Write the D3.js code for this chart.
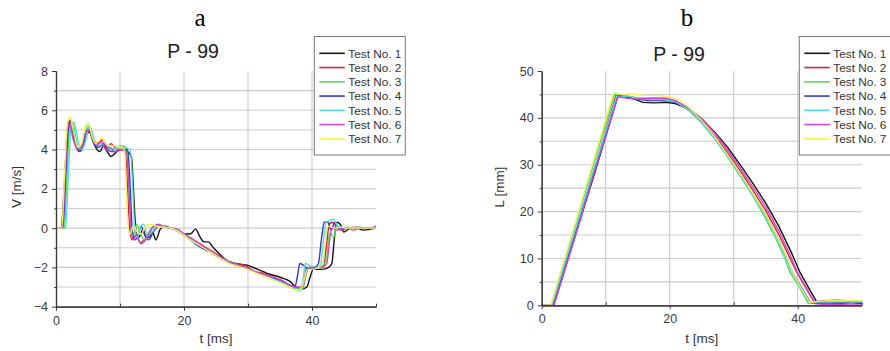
<!DOCTYPE html>
<html>
<head>
<meta charset="utf-8">
<script src="https://cdnjs.cloudflare.com/ajax/libs/d3/7.8.5/d3.min.js"></script>
<style>
  html, body { margin: 0; padding: 0; background: #fff; }
  svg { display: block; }
  text { font-family: "Liberation Sans", Arial, sans-serif; }
</style>
</head>
<body>
<svg id="chart" width="890" height="351"></svg>
<script>
// ---------------- DATA ----------------
const testNames = ["Test No. 1", "Test No. 2", "Test No. 3", "Test No. 4", "Test No. 5", "Test No. 6", "Test No. 7"];
const testColors = ["#141414", "#d02828", "#55dd55", "#3838c8", "#55e0e0", "#d045d0", "#f5ee55"];
const panelLetters = ["a", "b"];
const panelTitles = ["P - 99", "P - 99"];
const tTicks = [0, 20, 40];
const vTicks = [-4, -2, 0, 2, 4, 6, 8];
const lTicks = [0, 10, 20, 30, 40, 50];

// Velocity V [m/s] vs t [ms]  (pairs [t, V])
const vTest1 = [[0,0],[0.8,0],[1.3,2.2],[1.8,5.0],[2.2,5.4],[2.8,4.6],[3.5,3.95],[4.1,4.1],[4.7,4.7],[5.2,4.9],[5.8,4.4],[6.4,4.0],[6.9,3.9],[7.4,4.2],[8.0,3.9],[8.6,3.65],[9.2,3.8],[9.8,4.0],[10.5,4.0],[11.2,3.9],[11.8,3.6],[12.1,2.0],[12.4,0.2],[12.7,-0.5],[13.1,-0.4],[13.6,-0.05],[14.1,-0.5],[14.6,-0.45],[15.1,-0.2],[15.6,-0.6],[16.3,-0.05],[17,0.1],[18,0.0],[19,-0.1],[20,-0.3],[21,-0.3],[21.8,-0.05],[22.5,-0.45],[23.1,-0.7],[23.8,-0.7],[24.6,-1.0],[25.5,-1.3],[26.5,-1.6],[28,-1.8],[30,-1.9],[31.5,-2.1],[33,-2.3],[35,-2.5],[36.5,-2.7],[37.5,-3.0],[38.5,-3.1],[39.2,-3.0],[39.7,-2.5],[40.2,-2.1],[41.5,-2.1],[42.6,-2.0],[43.1,-1.8],[43.5,-0.5],[43.9,0.3],[44.4,0.2],[45,-0.2],[46,0.0],[47,0.0],[48,-0.1],[50,0.0]];
const vTest2 = [[0,0],[1.0,0],[1.4,2.5],[1.9,5.3],[2.3,5.5],[2.9,4.6],[3.5,4.0],[4.1,4.2],[4.8,5.0],[5.3,5.1],[5.9,4.5],[6.5,4.3],[7.3,4.5],[8.0,4.1],[8.6,4.3],[9.3,4.1],[10,4.1],[10.8,4.0],[11.2,2.0],[11.5,0.0],[11.9,-0.6],[12.5,-0.4],[13.2,-0.75],[13.8,-0.6],[14.5,-0.3],[15.2,0.1],[16,0.15],[17,0.05],[18,0.0],[19,-0.1],[20,-0.3],[21,-0.5],[22,-0.7],[23,-0.9],[24,-1.1],[25,-1.3],[26,-1.5],[27,-1.7],[28,-1.8],[29.5,-1.9],[31,-2.2],[32.5,-2.3],[34,-2.5],[35.5,-2.7],[36.5,-2.9],[37.5,-3.0],[38.3,-3.1],[38.8,-2.6],[39.2,-2.0],[40,-2.1],[41,-2.0],[41.8,-1.9],[42.3,-0.8],[42.7,0.2],[43.2,0.3],[43.8,0.1],[44.5,-0.1],[45.5,0.0],[47,0.05],[48.5,0.0],[50,0.05]];
const vTest3 = [[0,0],[1.3,0],[1.7,2.5],[2.2,5.3],[2.6,5.4],[3.2,4.4],[3.8,3.9],[4.4,4.3],[4.9,5.2],[5.4,5.1],[6.0,4.4],[6.6,4.1],[7.3,4.3],[8.0,4.2],[8.7,4.0],[9.4,4.1],[10.2,4.2],[11.0,4.1],[11.4,2.0],[11.7,0.0],[12.0,-0.5],[12.6,0.2],[13.1,-0.2],[13.8,-0.6],[14.5,-0.2],[15.3,0.1],[16,0.1],[17,0.05],[18,0.0],[19,-0.15],[20,-0.35],[21,-0.55],[22,-0.8],[23,-1.0],[24,-1.2],[25,-1.35],[26,-1.55],[27,-1.75],[28,-1.85],[29.5,-2.0],[31,-2.2],[32.5,-2.4],[34,-2.6],[35.5,-2.8],[36.5,-3.0],[37.5,-3.1],[38.5,-3.1],[39.0,-2.5],[39.5,-2.0],[40.5,-2.0],[41.5,-2.0],[42.3,-1.5],[42.7,-0.3],[43.0,-0.3],[43.4,-0.45],[43.9,0.1],[44.5,0.0],[45.5,0.05],[47,0.0],[48.5,0.0],[50,0.0]];
const vTest4 = [[0,0],[1.1,0],[1.5,2.5],[2.0,5.2],[2.3,5.3],[2.9,4.4],[3.6,3.9],[4.3,4.2],[4.9,5.0],[5.4,4.9],[6.0,4.3],[6.6,4.1],[7.4,4.3],[8.0,4.0],[8.7,3.9],[9.4,3.9],[10.2,4.0],[11.2,4.0],[11.6,2.0],[11.9,0.0],[12.3,-0.6],[12.8,-0.4],[13.3,0.1],[13.8,-0.3],[14.5,-0.6],[15.2,-0.2],[16,0.1],[17,0.05],[18,0.0],[19,-0.15],[20,-0.35],[21,-0.6],[22,-0.85],[23,-1.05],[24,-1.2],[25,-1.4],[26,-1.6],[27,-1.75],[28,-1.85],[29.5,-2.0],[31,-2.2],[32.5,-2.4],[34,-2.55],[35.5,-2.75],[36.5,-2.9],[37.3,-3.0],[37.7,-2.5],[38.1,-1.8],[38.7,-1.9],[39.5,-2.1],[40.5,-2.0],[41.0,-1.8],[41.5,-0.5],[41.9,0.3],[42.5,0.3],[43.0,-0.1],[43.6,0.3],[44.2,0.0],[45.5,0.0],[47,0.0],[48.5,0.0],[50,0.0]];
const vTest5 = [[0,0],[1.5,0],[1.9,2.5],[2.4,5.3],[2.8,5.4],[3.4,4.5],[4.0,4.0],[4.6,4.4],[5.1,5.1],[5.6,4.9],[6.2,4.3],[6.8,4.2],[7.5,4.4],[8.2,4.1],[9.0,4.0],[9.8,4.1],[10.6,4.1],[11.6,4.0],[12.0,2.0],[12.3,0.0],[12.7,-0.5],[13.2,0.1],[13.7,0.2],[14.3,-0.4],[15,-0.2],[15.8,0.1],[17,0.05],[18,0.0],[19,-0.1],[20,-0.3],[21,-0.5],[22,-0.75],[23,-0.95],[24,-1.15],[25,-1.35],[26,-1.55],[27,-1.7],[28,-1.85],[29.5,-2.0],[31,-2.2],[32.5,-2.4],[34,-2.6],[35.5,-2.8],[36.5,-2.95],[37.5,-3.1],[38.2,-3.2],[38.6,-2.6],[39.0,-1.8],[39.6,-1.9],[40.5,-2.0],[41.3,-1.9],[41.8,-0.6],[42.2,0.3],[42.8,0.4],[43.4,0.45],[44.0,0.1],[44.8,0.05],[46,0.0],[47.5,0.05],[49,0.0],[50,0.05]];
const vTest6 = [[0,0],[1.0,0],[1.4,2.5],[1.8,5.1],[2.1,5.3],[2.7,4.5],[3.4,4.0],[4.0,4.2],[4.7,4.9],[5.2,5.0],[5.8,4.5],[6.4,4.2],[7.1,4.4],[7.8,4.0],[8.5,4.1],[9.2,3.9],[10,4.0],[11.0,3.9],[11.4,2.0],[11.7,0.0],[12.1,-0.6],[12.6,-0.3],[13.2,-0.8],[13.8,-0.7],[14.5,-0.3],[15.2,0.05],[16.0,0.2],[17,0.05],[18,0.0],[19,-0.05],[20,-0.3],[21,-0.5],[22,-0.7],[23,-0.95],[24,-1.15],[25,-1.35],[26,-1.55],[27,-1.75],[28,-1.85],[29.5,-2.0],[31,-2.2],[32.5,-2.35],[34,-2.5],[35.5,-2.7],[36.5,-2.9],[37.5,-3.0],[38.5,-3.0],[39.0,-2.4],[39.5,-2.0],[40.5,-2.0],[41.5,-2.0],[42.3,-1.8],[42.8,-0.5],[43.2,0.1],[43.8,-0.1],[44.5,-0.05],[45.5,0.0],[46.5,-0.1],[47.5,0.0],[49,0.0],[50,0.1]];
const vTest7 = [[0,0],[0.9,0],[1.3,2.5],[1.8,5.4],[2.2,5.7],[2.8,4.8],[3.4,4.1],[4.0,4.3],[4.6,5.2],[5.1,5.35],[5.7,4.6],[6.3,4.3],[7.1,4.6],[7.8,4.3],[8.5,4.2],[9.3,4.2],[10,4.1],[10.7,4.0],[11.0,2.0],[11.3,0.0],[11.6,-0.3],[12.1,0.1],[12.7,-0.2],[13.3,-0.3],[14.0,0.1],[14.8,0.2],[15.6,0.1],[17,0.05],[18,0.0],[19,-0.15],[20,-0.35],[21,-0.6],[22,-0.8],[23,-1.0],[24,-1.2],[25,-1.4],[26,-1.6],[27,-1.8],[28,-1.9],[29.5,-2.05],[31,-2.25],[32.5,-2.45],[34,-2.65],[35.5,-2.85],[36.5,-3.0],[37.5,-3.15],[38.3,-3.1],[38.8,-2.6],[39.3,-2.1],[40,-2.1],[41,-2.0],[41.7,-1.8],[42.1,-0.5],[42.5,0.1],[43.0,0.05],[43.8,0.0],[44.5,0.05],[45.5,0.0],[47,0.0],[48.5,0.0],[50,0.0]];

// Displacement L [mm] vs t [ms]  (pairs [t, L])
const lTest1 = [[0,0],[1.8,0],[5,13.8],[8,27.0],[11.9,44.6],[13,44.4],[14.5,44.0],[15.8,43.3],[17.5,43.2],[19.5,43.3],[21,43.0],[23,41.8],[25,39.8],[27,37.0],[29,33.8],[31,30.0],[33,26.0],[35,21.8],[37,17.0],[39,11.3],[40.3,7.2],[41.8,3.5],[43.1,0.4],[44,0.6],[46,0.5],[48,0.6],[50,0.4]];
const lTest2 = [[0,0],[1.9,0],[5,14.0],[8,28.0],[11.6,44.8],[13,44.6],[15,44.2],[17,44.0],[19,44.0],[21,43.4],[23,41.8],[25,39.3],[27,36.2],[29,32.6],[31,28.7],[33,24.5],[35,20.2],[37,15.2],[38.8,10.0],[39.8,7.2],[41.2,3.8],[42.6,0.7],[44,1.0],[46,1.1],[48,1.0],[50,1.0]];
const lTest3 = [[0,0],[1.5,0],[5,15.8],[8,29.6],[11.4,45.0],[13,44.7],[15,44.3],[17,44.2],[19,44.2],[21,43.6],[23,41.8],[25,39.0],[27,35.6],[29,31.8],[31,27.6],[33,23.3],[34.6,19.5],[36.5,14.5],[38.0,10.0],[38.8,7.0],[40.3,3.8],[41.6,0.5],[43,0.6],[45,0.7],[47,0.7],[50,0.7]];
const lTest4 = [[0,0],[1.7,0],[5,14.4],[8,27.6],[11.8,44.8],[13,44.5],[15,44.0],[16.5,43.7],[18.5,43.7],[20,43.6],[21.5,43.0],[23,41.6],[25,39.0],[27,35.8],[29,32.0],[31,27.9],[33,23.7],[35,19.3],[36.8,14.5],[38.3,10.0],[39.2,7.0],[40.6,3.8],[42.0,0.5],[43.5,0.5],[45,0.6],[47,0.5],[49,0.8],[50,0.4]];
const lTest5 = [[0,0],[1.6,0],[5,15.0],[8,28.4],[11.7,44.6],[12.5,44.5],[13.5,44.7],[15,44.1],[17,43.9],[19,43.9],[21,43.4],[23,41.6],[25,38.9],[27,35.6],[29,31.9],[31,27.8],[33,23.5],[34.8,19.5],[36.6,14.5],[38.1,10.0],[39.0,7.0],[40.4,3.8],[41.8,0.5],[43.5,0.8],[45,0.7],[47,0.8],[50,0.7]];
const lTest6 = [[0,0],[1.9,0],[5,13.6],[8,27.4],[11.9,44.5],[13,44.3],[15,44.0],[17,44.2],[19.5,44.2],[21,43.6],[23,42.1],[25,39.8],[27,36.8],[29,33.2],[31,29.3],[33,25.2],[35,21.0],[37,16.0],[38.8,10.8],[39.9,7.2],[41.4,3.6],[42.8,0.3],[44,0.2],[46,0.2],[48,0.1],[50,0.1]];
const lTest7 = [[0,0],[1.4,0],[5,16.4],[8,30.4],[11.2,45.3],[12.5,45.0],[14,45.1],[16,44.8],[18,44.8],[20,44.5],[21.5,43.8],[23,42.2],[25,39.4],[27,36.0],[29,32.2],[31,28.2],[33,23.9],[35,19.5],[36.8,14.6],[38.3,10.2],[39.2,7.0],[40.5,3.8],[41.9,0.6],[43.5,0.9],[45,1.0],[47,1.0],[50,1.0]];

const vSeries = [vTest1, vTest2, vTest3, vTest4, vTest5, vTest6, vTest7];
const lSeries = [lTest1, lTest2, lTest3, lTest4, lTest5, lTest6, lTest7];

// ---------------- DRAWING ----------------
const svg = d3.select("#chart");
const FONT = '"Liberation Sans", Arial, sans-serif';

function drawPanel(p) {
  const g = svg.append("g");
  const x = d3.scaleLinear().domain([0, 50]).range([p.x0, p.x1]);
  const y = d3.scaleLinear().domain(p.yDomain).range([p.y0, p.y1]);

  // grid
  const grid = g.append("g");
  grid.selectAll("line.h").data(p.hGrid).join("line")
    .attr("x1", p.x0).attr("x2", p.x1)
    .attr("y1", d => y(d)).attr("y2", d => y(d))
    .attr("stroke", "#cccccc").attr("stroke-width", 1.1);
  grid.selectAll("line.v").data([10, 20, 30, 40]).join("line")
    .attr("x1", d => x(d)).attr("x2", d => x(d))
    .attr("y1", p.y0).attr("y2", p.y1)
    .attr("stroke", "#cccccc").attr("stroke-width", 1.1);

  // curves
  const line = d3.line().x(d => x(d[0])).y(d => y(d[1])).curve(p.curve);
  g.append("g").selectAll("path").data(p.series).join("path")
    .attr("d", line)
    .attr("fill", "none")
    .attr("stroke", (d, i) => testColors[i])
    .attr("stroke-width", 1.4)
    .attr("stroke-linejoin", "round");

  // axes
  const yAxis = d3.axisLeft(y).tickValues(p.yTicks).tickSize(4).tickSizeOuter(0).tickPadding(4);
  const yMinor = d3.axisLeft(y).tickValues(p.yMinor).tickSize(2).tickSizeOuter(0).tickFormat("");
  const xAxis = d3.axisBottom(x).tickValues(tTicks).tickSize(4).tickSizeOuter(0).tickPadding(5);
  const xMinor = d3.axisTop(x).tickValues([10, 30, 50]).tickSize(3).tickSizeOuter(0).tickFormat("");

  [[yAxis, `translate(${p.x0},0)`], [yMinor, `translate(${p.x0},0)`],
   [xAxis, `translate(0,${p.y0})`], [xMinor, `translate(0,${p.y0})`]].forEach(([ax, tr]) => {
    const a = g.append("g").attr("transform", tr).call(ax);
    a.selectAll("path").attr("stroke", "#3a3a3a").attr("stroke-width", 1.2);
    a.selectAll("line").attr("stroke", "#3a3a3a");
    a.selectAll("text").attr("fill", "#3a3a3a").style("font-family", FONT).style("font-size", "12.5px");
  });

  // axis titles
  g.append("text").attr("x", (p.x0 + p.x1) / 2).attr("y", 343)
    .attr("text-anchor", "middle").style("font-family", FONT).style("font-size", "13.5px")
    .attr("fill", "#333").text("t [ms]");
  g.append("text").attr("transform", `translate(${p.yTitleX},${p.yTitleY}) rotate(-90)`)
    .attr("text-anchor", "middle").style("font-family", FONT).style("font-size", "13.5px")
    .attr("fill", "#333").text(p.yTitle);

  // title + letter
  g.append("text").attr("x", p.titleX).attr("y", p.titleY).attr("text-anchor", "middle")
    .style("font-family", FONT).style("font-size", "19.5px").attr("fill", "#222").text(p.title);
  g.append("text").attr("x", p.letterX).attr("y", 26).attr("text-anchor", "middle")
    .style("font-family", '"Liberation Serif", "Times New Roman", serif').style("font-size", "25px")
    .attr("fill", "#000").text(p.letter);

  // legend
  const lg = g.append("g");
  lg.append("rect").attr("x", p.legX).attr("y", 36.5).attr("width", p.legW).attr("height", 118.5)
    .attr("fill", "#fff").attr("stroke", "#7a7a7a").attr("stroke-width", 1);
  const rows = lg.selectAll("g.row").data(testNames).join("g")
    .attr("transform", (d, i) => `translate(0,${53.3 + i * 14.25})`);
  rows.append("line").attr("x1", p.legX + 5).attr("x2", p.legX + 30.5)
    .attr("y1", 0).attr("y2", 0)
    .attr("stroke", (d, i) => testColors[i]).attr("stroke-width", 1.6);
  rows.append("text").attr("x", p.legX + 34).attr("y", 4.2)
    .style("font-family", FONT).style("font-size", "11.8px").attr("fill", "#333")
    .text(d => d);
}

drawPanel({
  x0: 56, x1: 376, y0: 306.7, y1: 71, yDomain: [-4, 8],
  yTicks: vTicks, yMinor: [-3, -1, 1, 3, 5, 7], hGrid: [-3, -2, -1, 0, 1, 2, 3, 4, 5, 6, 7],
  series: vSeries, curve: d3.curveMonotoneX, yTitle: "V [m/s]", yTitleX: 21, yTitleY: 187,
  title: panelTitles[0], titleX: 193, titleY: 57.5, letter: panelLetters[0], letterX: 200,
  legX: 314.3, legW: 91
});
drawPanel({
  x0: 541.7, x1: 861.7, y0: 305.3, y1: 71, yDomain: [0, 50],
  yTicks: lTicks, yMinor: [5, 15, 25, 35, 45], hGrid: [5, 10, 15, 20, 25, 30, 35, 40, 45],
  series: lSeries, curve: d3.curveLinear, yTitle: "L [mm]", yTitleX: 503.5, yTitleY: 187,
  title: panelTitles[1], titleX: 679, titleY: 60.5, letter: panelLetters[1], letterX: 687,
  legX: 799.3, legW: 92
});
</script>
</body>
</html>
